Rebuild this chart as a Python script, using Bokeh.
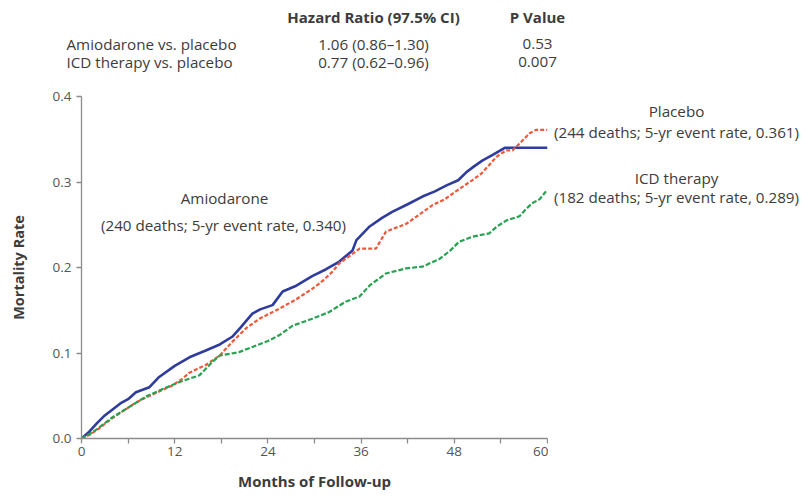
from bokeh.plotting import figure
from bokeh.models import FixedTicker, Label, CustomJSTickFormatter, Range1d
from bokeh.layouts import column, row
from bokeh.embed import file_html
from bokeh.resources import INLINE

# ---- data ----
amio_months = [0, 1, 2, 3, 4, 5, 6, 7, 8.75, 10, 12, 13.9, 16, 17.8, 19.4, 20.5, 22, 23,
               24.6, 25.9, 27.5, 29.7, 31.5, 33.2, 34.9, 35.4, 37.1, 38.7, 40, 42, 43.9,
               45.5, 47, 48.5, 49.5, 50.5, 51.6, 53, 54.5, 60]
amio_rate = [0, 0.008, 0.018, 0.027, 0.034, 0.041, 0.046, 0.054, 0.060, 0.072, 0.085, 0.095,
             0.103, 0.110, 0.119, 0.130, 0.146, 0.151, 0.156, 0.172, 0.178, 0.190, 0.198,
             0.207, 0.220, 0.232, 0.248, 0.258, 0.265, 0.274, 0.283, 0.289, 0.296, 0.302,
             0.311, 0.318, 0.325, 0.332, 0.340, 0.340]

plac_months = [0, 1, 2, 3, 4, 5, 6, 7, 8.3, 10, 11.7, 13, 13.9, 16, 17.8, 19.4, 21.2, 22.9,
               25.5, 27.5, 29.7, 31, 32.3, 33.2, 34, 35.8, 37.9, 39.2, 41.8, 43.5, 45.2,
               46.8, 48.2, 50.3, 51.5, 52.5, 53.5, 54.7, 55.5, 56.4, 57.7, 58.5, 60]
plac_rate = [0, 0.004, 0.010, 0.017, 0.024, 0.030, 0.036, 0.042, 0.048, 0.055, 0.062, 0.070,
             0.077, 0.086, 0.097, 0.113, 0.129, 0.140, 0.152, 0.162, 0.175, 0.184, 0.195,
             0.205, 0.210, 0.222, 0.222, 0.242, 0.251, 0.262, 0.273, 0.280, 0.289, 0.302,
             0.310, 0.320, 0.330, 0.337, 0.337, 0.345, 0.357, 0.361, 0.361]

icd_months = [0, 1, 2, 3, 4, 6, 8.3, 10, 12.6, 15.2, 16.9, 17.8, 20.3, 22, 24, 25.5, 27.2,
              29.7, 31.9, 34, 35.8, 37.1, 39.2, 41.8, 43.9, 46.1, 47.5, 48.6, 50.3, 52.5,
              53.5, 54.7, 56.4, 57.2, 58, 59, 59.8]
icd_rate = [0, 0.005, 0.011, 0.018, 0.025, 0.036, 0.049, 0.056, 0.066, 0.074, 0.090, 0.097,
            0.101, 0.107, 0.114, 0.121, 0.132, 0.140, 0.148, 0.160, 0.166, 0.179, 0.193,
            0.199, 0.201, 0.210, 0.220, 0.230, 0.236, 0.240, 0.248, 0.255, 0.260, 0.268,
            0.275, 0.280, 0.289]

x_ticks = [0, 12, 24, 36, 48, 60]
x_minor = [6, 18, 30, 42, 54]
y_ticks = [0.0, 0.1, 0.2, 0.3, 0.4]

header_cols = ["Hazard Ratio (97.5% CI)", "P Value"]
row_names = ["Amiodarone vs. placebo", "ICD therapy vs. placebo"]
row_hr = ["1.06 (0.86\u20131.30)", "0.77 (0.62\u20130.96)"]
row_p = ["0.53", "0.007"]

series_names = ["Amiodarone", "Placebo", "ICD therapy"]
series_notes = ["(240 deaths; 5-yr event rate, 0.340)",
                "(244 deaths; 5-yr event rate, 0.361)",
                "(182 deaths; 5-yr event rate, 0.289)"]

FONT = "Open Sans"
TXT = "#3c3c3c"
AX = "#8c8c8c"
FS = "15.2px"
FSB = "15px"

TOTAL_W = 804
HEAD_H = 80
MAIN_W = 548
B_LEFT, B_TOP, B_BOTTOM = 81, 16, 60
FRAME_W, FRAME_H = 466, 342
MAIN_H = B_TOP + FRAME_H + B_BOTTOM
RIGHT_W = TOTAL_W - MAIN_W
OX, OY = 2, 2  # page offset of the layout


def add_text(fig, text, x, y, align="left", bold=False):
    fig.add_layout(Label(x=x, y=y, text=text, text_align=align, text_baseline="middle",
                         text_font=FONT, text_font_size=FSB if bold else FS,
                         text_font_style="bold" if bold else "normal", text_color=TXT))


def blank_fig(w, h, xr, yr, top=0, bottom=0):
    f = figure(width=w, height=h, output_backend="svg", toolbar_location=None,
               x_axis_type=None, y_axis_type=None, title=None,
               x_range=Range1d(*xr), y_range=Range1d(*yr),
               min_border=0, min_border_left=0, min_border_right=0,
               min_border_top=top, min_border_bottom=bottom)
    f.outline_line_color = None
    f.grid.grid_line_color = None
    return f


# ---- header table (ranges in page pixels) ----
head = blank_fig(TOTAL_W, HEAD_H, (OX, OX + TOTAL_W), (OY + HEAD_H, OY))
add_text(head, header_cols[0], 375, 18, align="center", bold=True)
add_text(head, header_cols[1], 539, 18, align="center", bold=True)
for i, py in enumerate([45, 63]):
    add_text(head, row_names[i], 68, py)
    add_text(head, row_hr[i], 375, py, align="center")
    add_text(head, row_p[i], 539, py, align="center")

# ---- main chart ----
p = figure(width=MAIN_W, height=MAIN_H, output_backend="svg", toolbar_location=None,
           x_range=(0, 60), y_range=(0, 0.4), title=None,
           min_border_left=B_LEFT, min_border_right=MAIN_W - B_LEFT - FRAME_W,
           min_border_top=B_TOP, min_border_bottom=B_BOTTOM)
p.outline_line_color = None
p.grid.grid_line_color = None

p.line(amio_months, amio_rate, line_color="#2f3c9e", line_width=2.6)
p.line(plac_months, plac_rate, line_color="#f0583a", line_width=2.2, line_dash="4 2")
p.line(icd_months, icd_rate, line_color="#28a152", line_width=2.2, line_dash="5 2")

xa = p.xaxis[0]
xa.ticker = FixedTicker(ticks=x_ticks, minor_ticks=x_minor)
ya = p.yaxis[0]
ya.ticker = FixedTicker(ticks=y_ticks, minor_ticks=[])
ya.formatter = CustomJSTickFormatter(code="return tick.toFixed(1);")
for ax in (xa, ya):
    ax.axis_line_color = AX
    ax.axis_line_width = 1.3
    ax.major_tick_line_color = AX
    ax.major_tick_line_width = 1.3
    ax.minor_tick_line_color = AX
    ax.minor_tick_line_width = 1.3
    ax.major_tick_out = 5
    ax.major_tick_in = 0
    ax.minor_tick_out = 5
    ax.minor_tick_in = 0
    ax.major_label_text_font = FONT
    ax.major_label_text_font_size = "13.5px"
    ax.major_label_text_color = "#555555"
    ax.axis_label_text_font = FONT
    ax.axis_label_text_font_style = "bold"
    ax.axis_label_text_color = TXT
xa.axis_label = "Months of Follow-up"
ya.axis_label = "Mortality Rate"
xa.axis_label_text_font_size = "15px"
ya.axis_label_text_font_size = "14.5px"
xa.major_label_standoff = 3
xa.axis_label_standoff = 12
ya.major_label_standoff = 5
ya.axis_label_standoff = 22

# page pixel position of the frame
FX0 = OX + B_LEFT
FY0 = OY + HEAD_H + B_TOP


def px2x(px):
    return (px - FX0) / FRAME_W * 60


def py2y(py):
    return (FY0 + FRAME_H - py) / FRAME_H * 0.4


add_text(p, series_names[0], px2x(226), py2y(199), align="center")
add_text(p, series_notes[0], px2x(225), py2y(226), align="center")

# ---- right-hand labels (frame aligned with the chart's frame; page pixels) ----
rx0 = OX + MAIN_W
right = blank_fig(RIGHT_W, MAIN_H, (rx0, rx0 + RIGHT_W), (FY0 + FRAME_H, FY0),
                  top=B_TOP, bottom=B_BOTTOM)
add_text(right, series_names[1], 678, 112, align="center")
add_text(right, series_notes[1], 678, 133, align="center")
add_text(right, series_names[2], 678, 179, align="center")
add_text(right, series_notes[2], 678, 198, align="center")

layout = column(head, row(p, right))
open("out.html", "w").write(file_html(layout, INLINE))
